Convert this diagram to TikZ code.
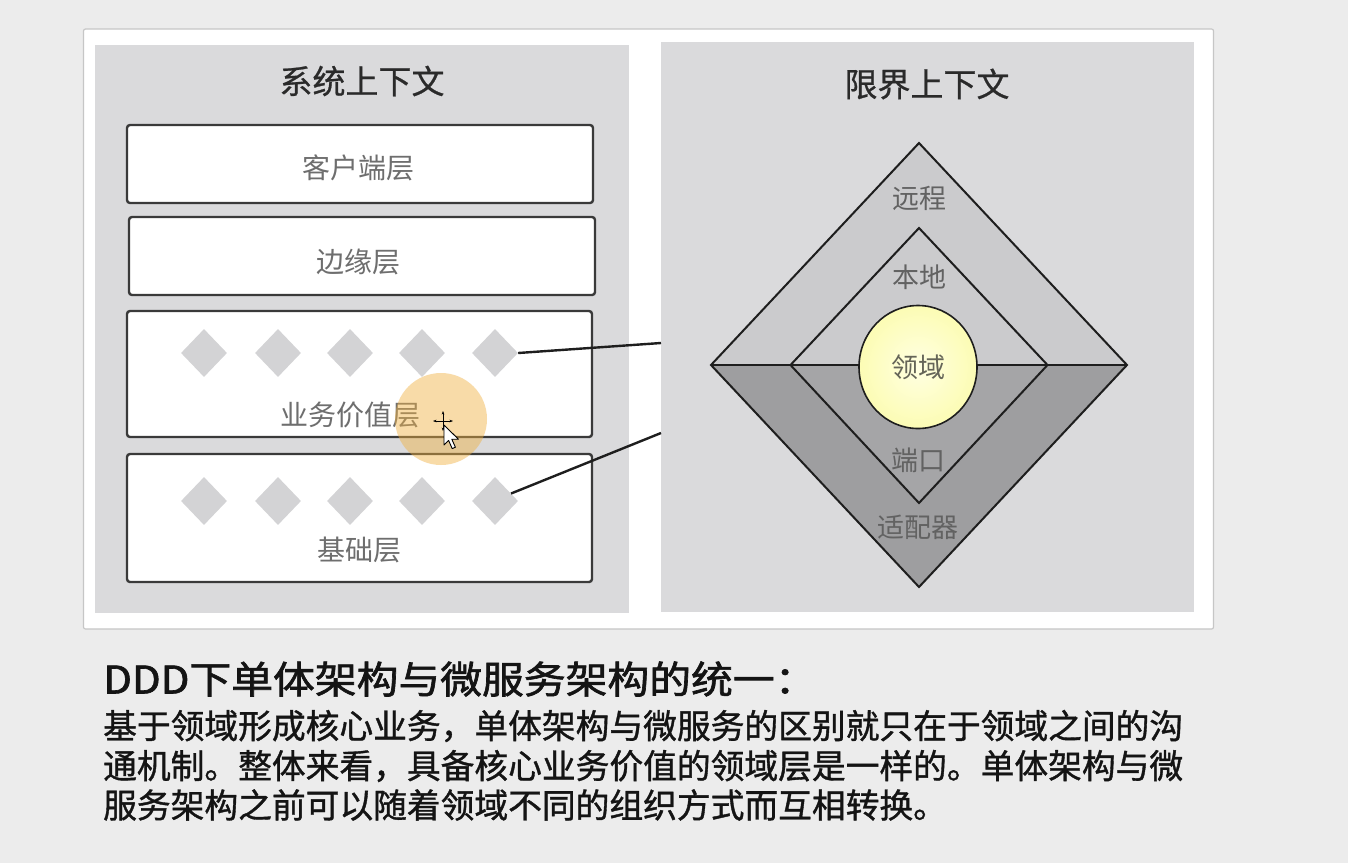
\documentclass[tikz,border=0pt]{standalone}
\usepackage{fontspec}
\setmainfont{Noto Sans CJK SC}
\newfontfamily\headfont[FakeBold=1.6]{Noto Sans CJK SC}
\newfontfamily\bodyfont[FakeBold=1.1]{Noto Sans CJK SC}
\newfontfamily\titlefont[FakeBold=0.7]{Noto Sans CJK SC}
\usetikzlibrary{shapes.geometric,arrows.meta}

\definecolor{pagebg}{HTML}{ECECEC}
\definecolor{sheetedge}{HTML}{C6C6C6}
\definecolor{panelgray}{HTML}{DADADC}
\definecolor{chipgray}{HTML}{D3D3D5}
\definecolor{ringlight}{HTML}{CBCBCD}
\definecolor{ringdark}{HTML}{9E9EA0}
\definecolor{ringmid}{HTML}{A5A5A7}
\definecolor{coreinner}{HTML}{FFFFE2}
\definecolor{coreouter}{HTML}{FCFCB4}
\definecolor{labelgray}{HTML}{6E6E6E}
\definecolor{ringtext}{HTML}{626262}
\definecolor{titlegray}{HTML}{2A2A2A}
\definecolor{boxline}{HTML}{3A3A3A}
\definecolor{inkline}{HTML}{1E1E1E}
\definecolor{halo}{HTML}{F0B040}
\definecolor{textink}{HTML}{141414}

\begin{document}
\begin{tikzpicture}[x=1pt,y=-1pt,
  sheet/.style={draw=sheetedge,line width=1.2pt,fill=white,rounded corners=2pt,inner sep=0pt},
  panel/.style={fill=panelgray,inner sep=0pt},
  paneltitle/.style={text=titlegray,font=\titlefont\fontsize{33}{38}\selectfont,inner sep=0pt},
  layerbox/.style={draw=boxline,line width=2.4pt,fill=white,rounded corners=3pt,inner sep=0pt},
  layerlabel/.style={text=labelgray,font=\fontsize{28}{32}\selectfont,inner sep=0pt},
  chip/.style={diamond,fill=chipgray,minimum width=46pt,minimum height=48pt,inner sep=0pt},
  link/.style={draw=inkline,line width=2.4pt},
  ringedge/.style={draw=inkline,line width=2pt,line join=miter},
  ringlabel/.style={text=ringtext,font=\fontsize{27}{31}\selectfont,inner sep=0pt},
  core/.style={ellipse,draw=inkline,line width=1.6pt,inner color=coreinner,outer color=coreouter,
    minimum width=118pt,minimum height=123pt,inner sep=0pt,text=ringtext!90!olive,
    font=\fontsize{27}{31}\selectfont},
  headline/.style={anchor=west,inner sep=0pt,text=textink,font=\headfont\fontsize{38}{44}\selectfont},
  bodyline/.style={anchor=west,inner sep=0pt,text=textink,font=\bodyfont\fontsize{33.75}{40}\selectfont}
]
\useasboundingbox (0,0) rectangle (1348,863);
\fill[pagebg] (0,0) rectangle (1348,863);

% white sheet holding both contexts
\node[sheet,minimum width=1130pt,minimum height=600pt] (sheet) at (648.5,329) {};

% left: system context with its layers
\node[panel,minimum width=534pt,minimum height=568pt] (syspanel) at (362,329) {};
\node[paneltitle] (systitle) at (362,81) {系统上下文};

\node[layerbox,minimum width=466pt,minimum height=78pt] (client) at (360,164) {};
\node[layerlabel] (clientlbl) at (358,168) {客户端层};
\node[layerbox,minimum width=466pt,minimum height=78pt] (edge) at (362,256) {};
\node[layerlabel] (edgelbl) at (358,262) {边缘层};
\node[layerbox,minimum width=465pt,minimum height=126pt] (value) at (359.5,374) {};
\node[layerlabel] (valuelbl) at (350,415) {业务价值层};
\node[layerbox,minimum width=465pt,minimum height=128pt] (base) at (359.5,518) {};
\node[layerlabel] (baselbl) at (359,550) {基础层};

% domain chips inside the two lower layers
\foreach \i/\x in {1/204,2/278,3/350,4/422,5/495}{
  \node[chip] (v\i) at (\x,353) {};
  \node[chip] (f\i) at (\x,501) {};
}

% right: bounded context
\node[panel,minimum width=533pt,minimum height=570pt] (bcpanel) at (927.5,327) {};
\node[paneltitle] (bctitle) at (927,84) {限界上下文};

\coordinate (T) at (919,143);
\coordinate (L) at (711,365);
\coordinate (R) at (1127,365);
\coordinate (B) at (919,587);
\coordinate (t) at (919,228);
\coordinate (l) at (790.5,365);
\coordinate (r) at (1047.5,365);
\coordinate (b) at (919,503);

\fill[ringlight] (L) -- (T) -- (R) -- cycle;
\fill[ringdark] (L) -- (B) -- (R) -- cycle;
\fill[ringlight] (l) -- (t) -- (r) -- cycle;
\fill[ringmid] (l) -- (b) -- (r) -- cycle;
\draw[ringedge] (T) -- (R) -- (B) -- (L) -- cycle;
\draw[ringedge] (t) -- (r) -- (b) -- (l) -- cycle;
\draw[ringedge] (L) -- (R);

\node[ringlabel] (remote) at (919,198) {远程};
\node[ringlabel] (local) at (919,277) {本地};
\node[ringlabel] (port) at (918,460) {端口};
\node[ringlabel] (adapter) at (918,527) {适配器};
\node[core] (domain) at (918,367) {领域};

% chips mapped onto the bounded context
\coordinate (p1) at (661,343);
\coordinate (p2) at (661,433);
\draw[link] (v5.east) -- (p1);
\draw[link] (f5.25) -- (p2);

% pointer highlight
\fill[halo,opacity=0.45] (441,419) circle[radius=46pt];
\draw[line width=1pt,{Stealth[length=3.5pt]}-{Stealth[length=3.5pt]}] (433,421) -- (453,421);
\draw[line width=1pt,{Stealth[length=3.5pt]}-{Stealth[length=3.5pt]}] (443,411) -- (443,431);
\draw[fill=white,line width=0.9pt,line join=round] (444,425) -- ++(0,20) -- ++(4.6,-4.6)
  -- ++(3.6,8.2) -- ++(3.2,-1.4) -- ++(-3.6,-8) -- ++(6.6,0) -- cycle;

% caption
\node[headline] (head) at (103,679) {\scalebox{1.1}[1]{DDD下单体架构与微服务架构的统一：}};
\node[bodyline] (line1) at (103,726) {基于领域形成核心业务，单体架构与微服务的区别就只在于领域之间的沟};
\node[bodyline] (line2) at (103,766) {通机制。整体来看，具备核心业务价值的领域层是一样的。单体架构与微};
\node[bodyline] (line3) at (103,805) {服务架构之前可以随着领域不同的组织方式而互相转换。};
\end{tikzpicture}
\end{document}
